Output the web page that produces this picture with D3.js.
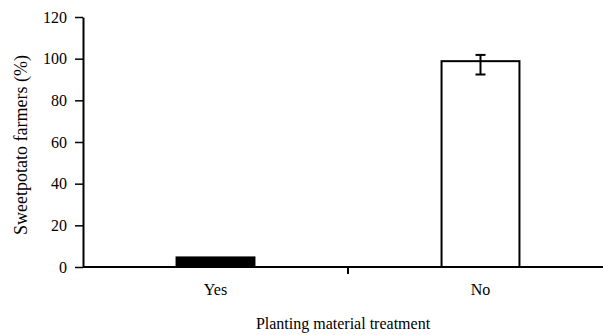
<!DOCTYPE html>
<html>
<head>
<meta charset="utf-8">
<script src="https://cdn.jsdelivr.net/npm/d3@7"></script>
<style>
  html, body { margin: 0; padding: 0; background: #fff; }
  svg { display: block; }
</style>
</head>
<body>
<svg id="chart" width="603" height="335"></svg>
<script>
// Share of sweetpotato farmers treating planting material
const categories = ["Yes", "No"];
const values = [4.6, 98.8];
const errLow = [null, 92.4];
const errHigh = [null, 101.8];
const fills = ["#000", "#fff"];
const yTicks = [0, 20, 40, 60, 80, 100, 120];

const FONT = "'Liberation Serif', Tinos, 'Times New Roman', Times, serif";
const svg = d3.select("#chart");
const plotLeft = 83, plotTop = 17, plotBottom = 267, plotRightExt = 613;

const x = d3.scaleBand().domain(categories).range([plotLeft, plotRightExt]).paddingInner(0.706).paddingOuter(0.353);
const y = d3.scaleLinear().domain([0, 120]).range([plotBottom, plotTop]);

const data = categories.map((c, i) => ({ c, v: values[i], lo: errLow[i], hi: errHigh[i], fill: fills[i] }));

// bars
svg.append("g").selectAll("rect").data(data).join("rect")
  .attr("x", d => x(d.c))
  .attr("y", d => y(d.v))
  .attr("width", x.bandwidth())
  .attr("height", d => y(0) - y(d.v))
  .attr("fill", d => d.fill)
  .attr("stroke", "#000")
  .attr("stroke-width", 2);

// error bars
const eb = svg.append("g").attr("stroke", "#000").attr("stroke-width", 2);
data.filter(d => d.lo != null).forEach(d => {
  const cx = x(d.c) + x.bandwidth() / 2;
  eb.append("line").attr("x1", cx).attr("x2", cx).attr("y1", y(d.hi)).attr("y2", y(d.lo));
  eb.append("line").attr("x1", cx - 5).attr("x2", cx + 5).attr("y1", y(d.hi)).attr("y2", y(d.hi));
  eb.append("line").attr("x1", cx - 5).attr("x2", cx + 5).attr("y1", y(d.lo)).attr("y2", y(d.lo));
});

// y axis
const yAxis = svg.append("g").attr("transform", `translate(${plotLeft},0)`)
  .call(d3.axisLeft(y).tickValues(yTicks).tickSize(8).tickPadding(8).tickSizeOuter(0));
yAxis.attr("font-family", null).attr("font-size", null);
yAxis.select(".domain").attr("stroke", "#000").attr("stroke-width", 2);
yAxis.selectAll(".tick line").attr("stroke", "#000").attr("stroke-width", 1.5);
yAxis.selectAll("text")
  .style("font-family", FONT)
  .style("font-size", "16px")
  .attr("fill", "#000");

// x axis: single divider tick between the two groups
const xAxis = svg.append("g").attr("transform", `translate(0,${plotBottom})`);
xAxis.append("line").attr("x1", plotLeft).attr("x2", plotRightExt).attr("stroke", "#000").attr("stroke-width", 2);
const mid = (x("Yes") + x.bandwidth() / 2 + x("No") + x.bandwidth() / 2) / 2;
xAxis.append("line").attr("x1", mid).attr("x2", mid).attr("y1", 0).attr("y2", 7).attr("stroke", "#000").attr("stroke-width", 2);
xAxis.selectAll("text.cat").data(categories).join("text").attr("class", "cat")
  .attr("x", d => x(d) + x.bandwidth() / 2)
  .attr("y", 28)
  .attr("text-anchor", "middle")
  .style("font-family", FONT)
  .style("font-size", "16px")
  .text(d => d);

// axis titles
svg.append("text")
  .attr("transform", "translate(27,145) rotate(-90)")
  .attr("text-anchor", "middle")
  .style("font-family", FONT)
  .style("font-size", "18px")
  .text("Sweetpotato farmers (%)");

svg.append("text")
  .attr("x", 343)
  .attr("y", 329)
  .attr("text-anchor", "middle")
  .style("font-family", FONT)
  .style("font-size", "16px")
  .text("Planting material treatment");
</script>
</body>
</html>
